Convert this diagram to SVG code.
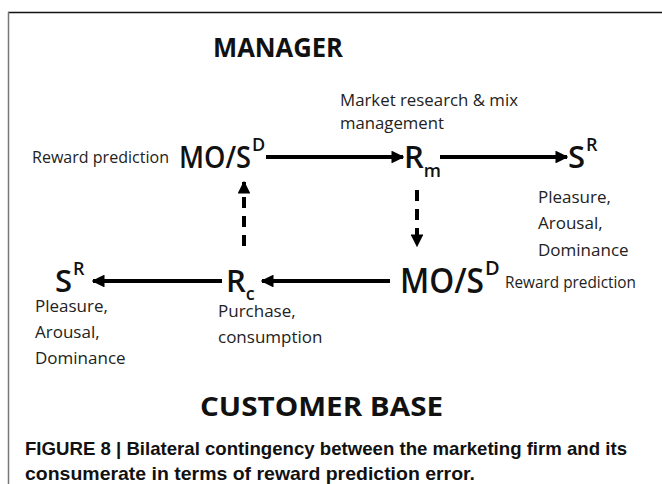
<svg xmlns="http://www.w3.org/2000/svg" width="662" height="484" viewBox="0 0 662 484">
<defs>
<style>
.t{font-family:"Open Sans","Liberation Sans",sans-serif;fill:#222;font-size:17px}
.b{font-family:"Open Sans","Liberation Sans",sans-serif;fill:#111;font-weight:bold;font-size:26px}
.n{font-family:"Open Sans","Liberation Sans",sans-serif;fill:#111;font-weight:600;font-size:31px}
.s{font-size:18px}
.cap{font-family:"Liberation Sans",Arial,sans-serif;fill:#111;font-weight:bold;font-size:19px}
.ln{stroke:#000;stroke-width:4;fill:none}
.dl{stroke:#000;stroke-width:4;fill:none;stroke-dasharray:11 8}
</style>
<marker id="ah" viewBox="0 0 10 10" refX="9" refY="5" markerWidth="3.2" markerHeight="3.2" orient="auto" markerUnits="strokeWidth">
<path d="M0,0 L10,5 L0,10 z" fill="#000"/>
</marker>
</defs>
<rect width="662" height="484" fill="#fff"/>
<g id="frame">
<line x1="8" y1="12.5" x2="662" y2="12.5" stroke="#111" stroke-width="1.5"/>
<line x1="8.5" y1="12" x2="8.5" y2="484" stroke="#777" stroke-width="1.5"/>
</g>
<g id="manager"><text class="b" x="213" y="57" textLength="130" lengthAdjust="spacingAndGlyphs">MANAGER</text></g>
<g id="customer-base"><text class="b" x="200" y="416" textLength="243" lengthAdjust="spacingAndGlyphs">CUSTOMER BASE</text></g>
<g id="mosd-top">
<text class="t" x="32" y="163" textLength="137" lengthAdjust="spacingAndGlyphs">Reward prediction</text>
<text class="n" x="179" y="168"><tspan textLength="72" lengthAdjust="spacingAndGlyphs">MO/S</tspan><tspan class="s" dx="1" dy="-17">D</tspan></text>
</g>
<g id="rm">
<text class="t" x="340" y="106" textLength="178" lengthAdjust="spacingAndGlyphs">Market research &amp; mix</text>
<text class="t" x="340" y="129" textLength="104" lengthAdjust="spacingAndGlyphs">management</text>
<text class="n" x="404" y="168">R<tspan class="s" dx="0" dy="9">m</tspan></text>
</g>
<g id="sr-top">
<text class="n" x="568" y="168">S<tspan class="s" dx="1" dy="-17">R</tspan></text>
<text class="t" x="538" y="203">Pleasure,</text>
<text class="t" x="538" y="229">Arousal,</text>
<text class="t" x="538" y="256">Dominance</text>
</g>
<g id="mosd-bottom">
<text class="n" x="400" y="293" style="font-size:35px"><tspan textLength="84" lengthAdjust="spacingAndGlyphs">MO/S</tspan><tspan class="s" style="font-size:20px" dx="1" dy="-18">D</tspan></text>
<text class="t" x="505" y="288" textLength="131" lengthAdjust="spacingAndGlyphs">Reward prediction</text>
</g>
<g id="rc">
<text class="n" x="226" y="292">R<tspan class="s" dx="0" dy="8">c</tspan></text>
<text class="t" x="218" y="317">Purchase,</text>
<text class="t" x="218" y="343">consumption</text>
</g>
<g id="sr-bottom">
<text class="n" x="55" y="292">S<tspan class="s" dx="1" dy="-17">R</tspan></text>
<text class="t" x="35" y="312">Pleasure,</text>
<text class="t" x="35" y="338">Arousal,</text>
<text class="t" x="35" y="364">Dominance</text>
</g>
<g id="connectors">
<line class="ln" x1="266" y1="157" x2="403" y2="157" marker-end="url(#ah)"/>
<line class="ln" x1="440" y1="157" x2="567" y2="157" marker-end="url(#ah)"/>
<line class="ln" x1="390" y1="281" x2="262" y2="281" marker-end="url(#ah)"/>
<line class="ln" x1="222" y1="281" x2="93" y2="281" marker-end="url(#ah)"/>
<line class="dl" x1="244" y1="246" x2="244" y2="182" marker-end="url(#ah)"/>
<line class="dl" x1="417" y1="190" x2="417" y2="246" marker-end="url(#ah)"/>
</g>
<g id="caption">
<text class="cap" x="25" y="455" textLength="602" lengthAdjust="spacingAndGlyphs">FIGURE 8 | Bilateral contingency between the marketing firm and its</text>
<text class="cap" x="25" y="480" textLength="450" lengthAdjust="spacingAndGlyphs">consumerate in terms of reward prediction error.</text>
</g>
</svg>
